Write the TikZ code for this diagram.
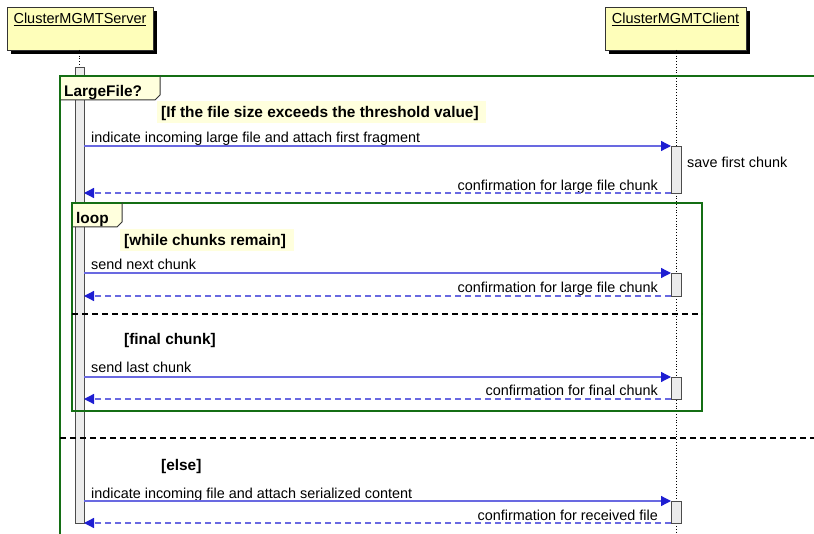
\documentclass[tikz,border=0pt]{standalone}
\usepackage{fontspec}
\setmainfont{Liberation Sans}
\usetikzlibrary{arrows.meta}
\definecolor{partfill}{RGB}{254,254,186}
\definecolor{guardfill}{RGB}{255,255,221}
\definecolor{framegreen}{RGB}{20,110,20}
\definecolor{msgline}{RGB}{105,105,225}
\definecolor{msghead}{RGB}{30,30,210}
\definecolor{actfill}{RGB}{236,236,236}
\tikzset{
  participant/.style={draw=black!80, line width=0.8pt, fill=partfill, minimum height=43pt, anchor=north west, inner sep=0pt},
  ptext/.style={font=\fontsize{14.5}{16}\selectfont, anchor=base},
  lifeline/.style={draw=black, dotted, line width=0.8pt},
  activation/.style={draw=black!70, line width=0.8pt, fill=actfill},
  msgtext/.style={font=\fontsize{14.4}{16}\selectfont, inner sep=0pt},
  guardtext/.style={font=\bfseries\fontsize{15.4}{17}\selectfont, inner sep=0pt},
  syncmsg/.style={draw=msgline, line width=1.3pt, -{Triangle[length=10pt,width=10pt,color=msghead]}},
  replymsg/.style={draw=msgline, line width=1.3pt, dash pattern=on 6pt off 4pt, -{Triangle[length=10pt,width=10pt,color=msghead]}},
  frameline/.style={draw=framegreen, line width=1.8pt},
  tab/.style={draw=black!80, line width=1pt, fill=guardfill},
  separator/.style={draw=black, line width=1.5pt, dash pattern=on 6pt off 4pt},
}
\begin{document}
\begin{tikzpicture}[x=1pt,y=-1pt]
\useasboundingbox (0,0) rectangle (814,534);
\fill[white] (0,0) rectangle (814,534);

% participants
\fill[black] (11,11) rectangle (157,54);
\node[participant, minimum width=146pt] (server) at (7,7) {};
\node[ptext] (servername) at (80,23.5) {\underline{ClusterMGMTServer}};
\fill[black] (609,11) rectangle (750,54);
\node[participant, minimum width=141pt] (client) at (605,7) {};
\node[ptext] (clientname) at (675.5,23.5) {\underline{ClusterMGMTClient}};

% lifelines
\coordinate (slt) at (79,50);
\coordinate (slb) at (79,67);
\draw[lifeline] (slt) -- (slb);
\coordinate (clt) at (676,50);
\coordinate (clb) at (676,534);
\draw[lifeline] (clt) -- (clb);

% outer alt frame
\coordinate (fo1) at (60,534);
\coordinate (fo2) at (60,76);
\coordinate (fo3) at (816,76);
\draw[frameline] (fo1) -- (fo2) -- (fo3);

% server activation
\node[activation, minimum width=9pt, minimum height=456pt, inner sep=0pt, anchor=north] (sact) at (79.5,67) {};

% LargeFile? tab
\draw[tab] (60,76) -- (160,76) -- (160,95) -- (155,100) -- (60,100) -- cycle;
\draw[framegreen, line width=1.8pt] (60,100) -- (60,76) -- (160,76);
\node[guardtext, anchor=base west] (altlabel) at (64,96.5) {LargeFile?};
\fill[guardfill] (157,101) rectangle (486,123);
\node[guardtext, anchor=base west] (guard1) at (161,118) {[If the file size exceeds the threshold value]};

% first fragment
\node[activation, minimum width=10pt, minimum height=47pt, inner sep=0pt, anchor=north] (cact1) at (676,146) {};
\coordinate (m1s) at (84,146);
\coordinate (m1e) at (671,146);
\node[msgtext, anchor=base west] (m1t) at (91,142.5) {indicate incoming large file and attach first fragment};
\draw[syncmsg] (m1s) -- (m1e);
\node[msgtext, anchor=base west] (save) at (687,168) {save first chunk};
\coordinate (r1s) at (671,193);
\coordinate (r1e) at (84,193);
\node[msgtext, anchor=base east] (r1t) at (658,191) {confirmation for large file chunk};
\draw[replymsg] (r1s) -- (r1e);

% loop frame
\draw[frameline] (72,203) rectangle (702,411);
\draw[tab] (72,203) -- (122,203) -- (122,222) -- (117,227) -- (72,227) -- cycle;
\draw[framegreen, line width=1.8pt] (72,227) -- (72,203) -- (122,203);
\node[guardtext, anchor=base west] (looplabel) at (76,223.5) {loop};
\fill[guardfill] (120,229) rectangle (294,251);
\node[guardtext, anchor=base west] (guard2) at (124,246) {[while chunks remain]};

\node[activation, minimum width=10pt, minimum height=23pt, inner sep=0pt, anchor=north] (cact2) at (676,273) {};
\coordinate (m2s) at (84,273);
\coordinate (m2e) at (671,273);
\node[msgtext, anchor=base west] (m2t) at (91,270) {send next chunk};
\draw[syncmsg] (m2s) -- (m2e);
\coordinate (r2s) at (671,296);
\coordinate (r2e) at (84,296);
\node[msgtext, anchor=base east] (r2t) at (658,293) {confirmation for large file chunk};
\draw[replymsg] (r2s) -- (r2e);

\coordinate (sep1a) at (72,314);
\coordinate (sep1b) at (702,314);
\draw[separator] (sep1a) -- (sep1b);
\node[guardtext, anchor=base west] (guard3) at (124,345) {[final chunk]};

\node[activation, minimum width=10pt, minimum height=22pt, inner sep=0pt, anchor=north] (cact3) at (676,377) {};
\coordinate (m3s) at (84,377);
\coordinate (m3e) at (671,377);
\node[msgtext, anchor=base west] (m3t) at (91,373) {send last chunk};
\draw[syncmsg] (m3s) -- (m3e);
\coordinate (r3s) at (671,399);
\coordinate (r3e) at (84,399);
\node[msgtext, anchor=base east] (r3t) at (658,396) {confirmation for final chunk};
\draw[replymsg] (r3s) -- (r3e);

% else branch
\coordinate (sep2a) at (60,438);
\coordinate (sep2b) at (816,438);
\draw[separator] (sep2a) -- (sep2b);
\node[guardtext, anchor=base west] (guard4) at (161,470) {[else]};

\node[activation, minimum width=10pt, minimum height=22pt, inner sep=0pt, anchor=north] (cact4) at (676,501) {};
\coordinate (m4s) at (84,501);
\coordinate (m4e) at (671,501);
\node[msgtext, anchor=base west] (m4t) at (91,498) {indicate incoming file and attach serialized content};
\draw[syncmsg] (m4s) -- (m4e);
\coordinate (r4s) at (671,523);
\coordinate (r4e) at (84,523);
\node[msgtext, anchor=base east] (r4t) at (658,520) {confirmation for received file};
\draw[replymsg] (r4s) -- (r4e);
\end{tikzpicture}
\end{document}
